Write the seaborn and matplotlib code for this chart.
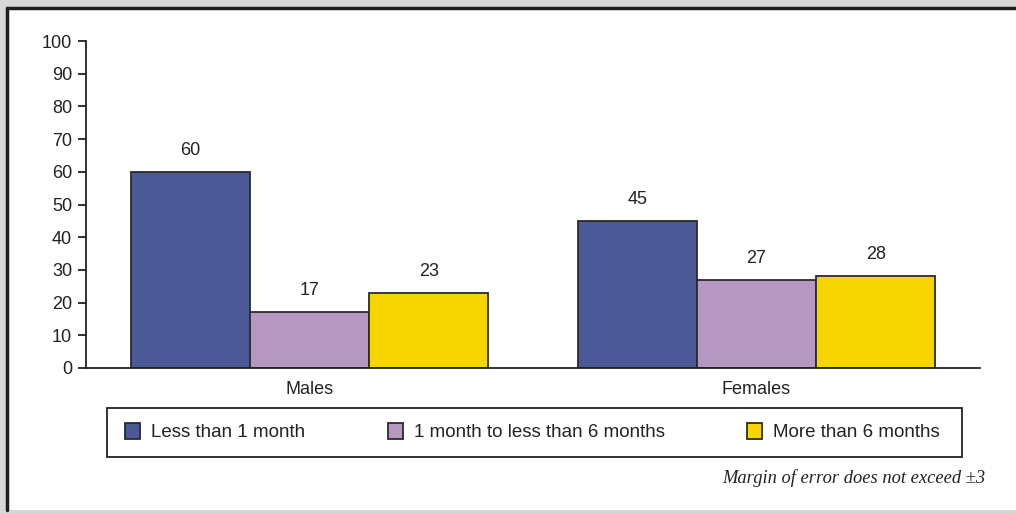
import matplotlib
matplotlib.use("Agg")
import matplotlib.pyplot as plt
import matplotlib.patches as mpatches
from matplotlib.lines import Line2D
import seaborn as sns
import pandas as pd

categories = ["Males", "Females"]
series_names = ["Less than 1 month", "1 month to less than 6 months", "More than 6 months"]
less_1_month = [60, 45]
one_to_6_months = [17, 27]
more_6_months = [23, 28]
colors = ["#4b5a96", "#b597c1", "#f7d600"]
y_ticks = [0, 10, 20, 30, 40, 50, 60, 70, 80, 90, 100]
note = "Margin of error does not exceed \u00b13"

rows = []
for name, vals in zip(series_names, [less_1_month, one_to_6_months, more_6_months]):
    for c, v in zip(categories, vals):
        rows.append({"Sex": c, "Duration": name, "Value": v})
df = pd.DataFrame(rows)

sns.set_style("white")
plt.rcParams["font.family"] = ["Liberation Sans", "DejaVu Sans"]

FS = 13

fig = plt.figure(figsize=(10.16, 5.13), dpi=100)
fig.patch.set_facecolor("#d7d7d7")

# white panel with dark top/left border
W, H = 1016, 513
panel = mpatches.Rectangle((7 / W, 3 / H), 1.0, (513 - 3 - 7.5) / H, transform=fig.transFigure,
                           facecolor="white", edgecolor="none", zorder=-10)
fig.add_artist(panel)
fig.add_artist(Line2D([6.5 / W, 6.5 / W], [3 / H, (513 - 7.5) / H], transform=fig.transFigure,
                      color="#1e1e1e", lw=2.5, zorder=-5))
fig.add_artist(Line2D([6.5 / W, 1.0], [(513 - 7.5) / H, (513 - 7.5) / H], transform=fig.transFigure,
                      color="#1e1e1e", lw=2.5, zorder=-5))

ax = fig.add_axes([86 / W, 1 - 368 / H, (980 - 86) / W, (368 - 41) / H])
ax.set_zorder(2)
ax.set_facecolor("none")

sns.barplot(data=df, x="Sex", y="Value", hue="Duration", order=categories,
            hue_order=series_names, palette=colors, width=0.8, saturation=1,
            edgecolor="#2b2b2b", linewidth=1.3, ax=ax, legend=False)

for cont in ax.containers:
    ax.bar_label(cont, fmt="%d", padding=9.5, fontsize=FS, color="#222222")

ax.set_xlim(-0.5, 1.5)
ax.set_ylim(0, 100)
ax.set_yticks(y_ticks)
ax.set_xlabel("")
ax.set_ylabel("")
for s in ["top", "right"]:
    ax.spines[s].set_visible(False)
for s in ["left", "bottom"]:
    ax.spines[s].set_color("#222222")
    ax.spines[s].set_linewidth(1.3)
ax.tick_params(axis="y", left=True, length=6, width=1.3, color="#222222",
               labelsize=FS, labelcolor="#222222", pad=4)
ax.tick_params(axis="x", bottom=False, length=0, labelsize=FS, labelcolor="#222222", pad=9)

# legend box frame
fig.add_artist(mpatches.Rectangle((107 / W, 1 - 457 / H), (962 - 107) / W, (457 - 408) / H,
                                  transform=fig.transFigure, facecolor="white",
                                  edgecolor="#222222", linewidth=1.3, zorder=1))

handles = [mpatches.Patch(facecolor=c, edgecolor="#2b2b2b", linewidth=1.3, label=n)
           for c, n in zip(colors, series_names)]
leg = fig.legend(handles=handles, ncol=3, mode="expand",
                 bbox_to_anchor=(125 / W, 1 - 442 / H, (940 - 125) / W, 20 / H),
                 loc="center", frameon=False, fontsize=13.5,
                 handlelength=0.8, handleheight=0.95, handletextpad=0.6,
                 borderpad=0, borderaxespad=0)
leg.set_zorder(3)
for t in leg.get_texts():
    t.set_color("#222222")

fig.text(985 / W, 1 - 478.5 / H, note, ha="right", va="center", fontsize=13.3,
         style="italic", family=["Liberation Serif", "DejaVu Serif"], color="#222222")

fig.savefig("out.png", dpi=100, facecolor=fig.get_facecolor())
